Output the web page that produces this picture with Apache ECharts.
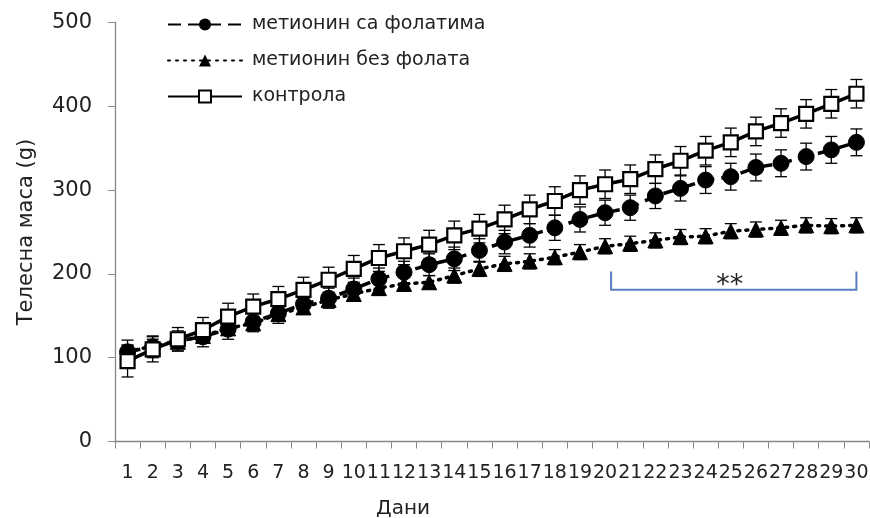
<!DOCTYPE html>
<html><head><meta charset="utf-8">
<script src="https://cdn.jsdelivr.net/npm/echarts@6/dist/echarts.min.js"></script>
<style>html,body{margin:0;padding:0;background:#fff}#c{width:870px;height:518px}</style>
</head><body><div id="c"></div>
<script>
const days = ['1','2','3','4','5','6','7','8','9','10','11','12','13','14','15','16','17','18','19','20','21','22','23','24','25','26','27','28','29','30'];
const yTicks = [0,100,200,300,400,500];
const withFolate = [107,113,120,125,134,143,153,164,171,182,194,202,211,218,228,238,246,255,265,273,279,293,302,312,316,327,332,340,348,357];
const withFolateErr = [14,13,12,12,12,12,12,12,12,13,13,13,13,14,14,14,14,15,15,15,15,15,15,16,16,16,16,16,16,16];
const withoutFolate = [107,114,119,126,135,141,152,160,169,176,183,188,190,198,206,212,215,220,226,233,236,240,244,245,251,253,255,258,257,258];
const withoutFolateErr = [8,8,8,8,8,8,8,8,8,8,8,8,8,9,9,9,9,9,9,9,9,9,9,9,9,9,9,9,9,9];
const control = [96,110,122,133,149,161,170,181,193,206,219,227,235,246,254,265,277,287,300,307,313,325,335,347,357,370,380,391,403,415];
const controlErr = [19,15,14,15,16,15,15,15,15,16,16,16,17,17,17,17,17,17,17,17,17,17,17,17,17,17,17,17,17,17];
const names = ['метионин са фолатима','метионин без фолата','контрола'];
const bracket = {from: 19, to: 29, low: 181, high: 203, text: '**'};

const FONT = 'DejaVu Sans, sans-serif';
const chart = echarts.init(document.getElementById('c'), null, {renderer:'canvas'});

function errData(vals, errs){ return vals.map((v,i)=>[i, v-errs[i], v+errs[i]]); }
function errSeries(vals, errs){
  return {
    type:'custom', z:1, silent:true,
    data: errData(vals, errs),
    renderItem: function(params, api){
      const lo = api.coord([api.value(0), api.value(1)]);
      const hi = api.coord([api.value(0), api.value(2)]);
      const w = 6;
      const st = {stroke:'#000', lineWidth:1.3};
      return {type:'group', children:[
        {type:'line', shape:{x1:lo[0],y1:lo[1],x2:hi[0],y2:hi[1]}, style:st},
        {type:'line', shape:{x1:lo[0]-w,y1:lo[1],x2:lo[0]+w,y2:lo[1]}, style:st},
        {type:'line', shape:{x1:hi[0]-w,y1:hi[1],x2:hi[0]+w,y2:hi[1]}, style:st}
      ]};
    }
  };
}

const option = {
  animation:false,
  backgroundColor:'#fff',
  grid:{left:115, right:1, top:22.5, bottom:76.5, containLabel:false, outerBoundsMode:'none'},
  legend:{
    orient:'vertical', left:162, top:10, itemGap:17,
    itemWidth:74, itemHeight:15,
    textStyle:{fontFamily:FONT, fontSize:19, color:'#222', padding:[0,0,0,5]},
    data:names
  },
  xAxis:{
    type:'category', data:days, boundaryGap:true,
    name:'Дани', nameLocation:'middle', nameGap:57,
    nameTextStyle:{fontFamily:FONT, fontSize:20, color:'#222', padding:[0,178,0,0]},
    axisLine:{lineStyle:{color:'#888', width:1.3}},
    axisTick:{show:true, length:7, alignWithLabel:false, lineStyle:{color:'#888'}},
    axisLabel:{interval:0, margin:22, fontFamily:FONT, fontSize:19, color:'#222'},
    splitLine:{show:false}
  },
  yAxis:{
    type:'value', min:yTicks[0], max:yTicks[yTicks.length-1], interval:100,
    name:'Телесна маса (g)', nameLocation:'middle', nameGap:78,
    nameTextStyle:{fontFamily:FONT, fontSize:21, color:'#222'},
    axisLine:{show:true, lineStyle:{color:'#888', width:1.3}},
    axisTick:{show:true, length:7, lineStyle:{color:'#888'}},
    axisLabel:{margin:23, fontFamily:FONT, fontSize:21, color:'#222'},
    splitLine:{show:false}
  },
  series:[
    errSeries(withFolate, withFolateErr),
    errSeries(withoutFolate, withoutFolateErr),
    errSeries(control, controlErr),
    {name:names[0], type:'line', data:withFolate, z:3,
     symbol:'circle', symbolSize:16, showAllSymbol:true,
     itemStyle:{color:'#000', borderColor:'#000'},
     lineStyle:{color:'#000', width:3.5, type:[13,7]}},
    {name:names[1], type:'line', data:withoutFolate, z:3,
     symbol:'triangle', symbolSize:15, showAllSymbol:true,
     itemStyle:{color:'#000', borderColor:'#000'},
     lineStyle:{color:'#000', width:3.5, type:[2,6], cap:'round'}},
    {name:names[2], type:'line', data:control, z:4,
     symbol:'rect', symbolSize:14, showAllSymbol:true,
     itemStyle:{color:'#fff', borderColor:'#000', borderWidth:2.2},
     lineStyle:{color:'#000', width:3.5}},
    {type:'custom', silent:true, z:5, data:[[bracket.from, bracket.to, bracket.low, bracket.high]],
     renderItem:function(params, api){
       const a = api.coord([api.value(0), api.value(3)]);
       const b = api.coord([api.value(0), api.value(2)]);
       const c = api.coord([api.value(1), api.value(2)]);
       const d = api.coord([api.value(1), api.value(3)]);
       const x0 = a[0]+6;
       return {type:'group', children:[
         {type:'polyline', shape:{points:[[x0,a[1]],[x0,b[1]],[c[0],c[1]],[d[0],d[1]]]},
          style:{stroke:'#5a7dbf', lineWidth:2, fill:null}},
         {type:'text', x:(x0+c[0])/2-4, y:b[1]+10,
          style:{text:bracket.text, fontFamily:FONT, fontSize:27, fill:'#222', align:'center', verticalAlign:'bottom'}}
       ]};
     }}
  ]
};
chart.setOption(option);
</script></body></html>
